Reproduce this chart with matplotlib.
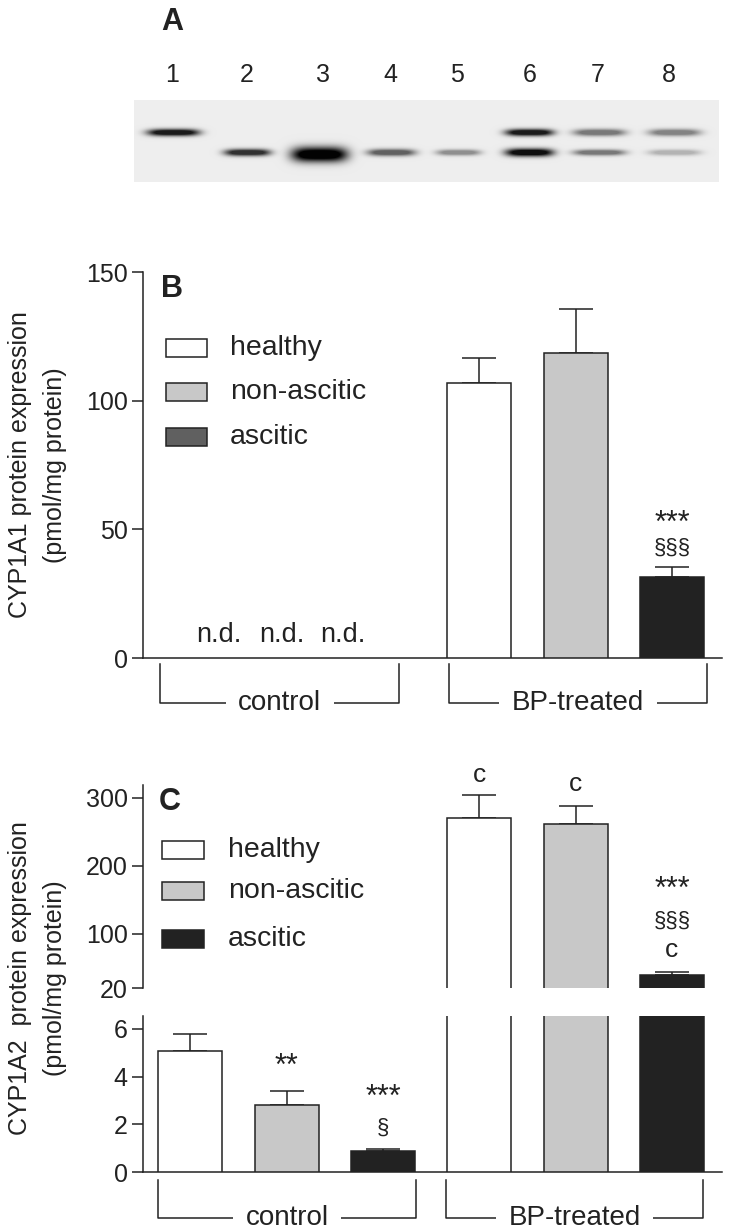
import numpy as np
import matplotlib
matplotlib.use('Agg')
import matplotlib.pyplot as plt
from matplotlib.patches import Rectangle

plt.rcParams['font.family'] = ['Liberation Sans', 'DejaVu Sans']
plt.rcParams['text.color'] = '#222222'
plt.rcParams['axes.edgecolor'] = '#222222'
plt.rcParams['xtick.color'] = '#222222'
plt.rcParams['ytick.color'] = '#222222'

# ---- data ----
groups = ['healthy', 'non-ascitic', 'ascitic']
colors = ['white', '#c8c8c8', '#222222']
legend_colors_B = ['white', '#c8c8c8', '#606060']

# panel A: western blot (band intensity 0..1 per lane)
lanes = ['1', '2', '3', '4', '5', '6', '7', '8']
lane_x = [39, 113, 185, 257, 324, 395, 465, 540]
label_x = [38, 113, 189, 256, 323, 396, 464, 535]
band_upper = [0.9, 0, 0, 0, 0, 0.9, 0.5, 0.45]
band_lower = [0, 0.8, 1.0, 0.6, 0.4, 0.95, 0.5, 0.25]
band_halfw = [26, 23, 28, 24, 22, 24, 26, 26]
band_thick = [3.5, 3.5, 7.5, 3.5, 3.0, 4.0, 3.0, 3.0]

# panel B: CYP1A1 (pmol/mg protein), control not detected
cyp1a1_bp = [107, 118.5, 31.5]
cyp1a1_bp_err = [9.5, 17, 4]

# panel C: CYP1A2 (pmol/mg protein)
cyp1a2_ctrl = [5.07, 2.8, 0.88]
cyp1a2_ctrl_err = [0.72, 0.6, 0.08]
cyp1a2_bp = [270.5, 261.6, 38.6]
cyp1a2_bp_err = [33.5, 26.6, 4.4]

W, H = 729, 1232
fig = plt.figure(figsize=(W / 100, H / 100), dpi=100)


def rect(l, t, r, b):
    return [l / W, 1 - b / H, (r - l) / W, (b - t) / H]


pos = np.arange(6)
width = 0.665
xlim = (-0.49, 5.52)
lw = 1.1
ast = 22

# ---- A ----
axA = fig.add_axes(rect(134, 100, 719, 182))
xx = np.arange(585)[None, :]
yy = np.arange(82)[:, None]
img = np.full((82, 585), 0.93)
for i in range(len(lanes)):
    for yc, inten in ((32, band_upper[i]), (52, band_lower[i])):
        if inten <= 0:
            continue
        th = band_thick[i] if yc == 52 else 3.5
        yc2 = yc + (2 if (yc == 52 and band_thick[i] > 5) else 0)
        prof = np.exp(-((xx - lane_x[i]) / band_halfw[i]) ** 4) * np.exp(-((yy - yc2) / th) ** 2)
        img = img - inten * 0.92 * np.clip(prof * 1.3, 0, 1)
axA.imshow(np.clip(img, 0, 1), cmap='gray', vmin=0, vmax=1, extent=(0, 585, 82, 0), aspect='auto')
axA.set_xlim(0, 585)
axA.set_ylim(82, 0)
axA.axis('off')
for lx, lab in zip(label_x, lanes):
    axA.text(lx, -25, lab, ha='center', va='center', fontsize=18, clip_on=False)
fig.text(172 / W, 1 - 22 / H, 'A', fontsize=22, fontweight='bold', ha='center', va='center')

# ---- B ----
axB = fig.add_axes(rect(143, 272, 722, 658))
axB.bar(pos[3:], cyp1a1_bp, width, color=colors, edgecolor='#222222', linewidth=lw, zorder=3)
axB.errorbar(pos[3:], cyp1a1_bp, yerr=[np.zeros(3), cyp1a1_bp_err], fmt='none', ecolor='#222222',
             elinewidth=lw, capsize=12, capthick=lw, zorder=2)
axB.set_xlim(*xlim)
axB.set_ylim(0, 150)
axB.set_yticks([0, 50, 100, 150])
for xp in [0.30, 0.95, 1.58]:
    axB.text(xp, 9, 'n.d.', ha='center', va='center', fontsize=19.5)
axB.text(5, 52, '***', ha='center', va='center', fontsize=ast)
axB.text(5, 42.5, '§§§', ha='center', va='center', fontsize=16)


def style(ax, bottom=True):
    for s in ['top', 'right']:
        ax.spines[s].set_visible(False)
    ax.spines['bottom'].set_visible(bottom)
    for s in ['left', 'bottom']:
        ax.spines[s].set_linewidth(lw)
    ax.set_xticks([])
    ax.tick_params(axis='y', length=8, width=lw, labelsize=18, pad=3)


style(axB)


def bracket(ax, x0, x1, y0, y1, label):
    tr = ax.get_xaxis_transform()
    ax.plot([x0, x0, x1, x1], [y0, y1, y1, y0], color='#222222', lw=lw, transform=tr, clip_on=False)
    ax.text((x0 + x1) / 2, y1, label, ha='center', va='center', fontsize=20, transform=tr,
            bbox=dict(facecolor='white', edgecolor='none', pad=9), clip_on=False)


bracket(axB, -0.311, 2.168, -0.016, -0.117, 'control')
bracket(axB, 2.687, 5.363, -0.016, -0.117, 'BP-treated')

fig.text(172 / W, 1 - 289 / H, 'B', fontsize=22, fontweight='bold', ha='center', va='center')


def legend(top_rows, fills, text_x, box_l, box_r):
    for yc, c, g in zip(top_rows, fills, groups):
        fig.patches.append(Rectangle((box_l / W, 1 - (yc + 9) / H), (box_r - box_l) / W, 18 / H,
                                     transform=fig.transFigure, facecolor=c, edgecolor='#222222',
                                     linewidth=lw))
        fig.text(text_x / W, 1 - yc / H, g, fontsize=20.5, ha='left', va='center')


legend([348, 392, 437], legend_colors_B, 230, 166, 207)

fig.text(20 / W, 1 - 465 / H, 'CYP1A1 protein expression', rotation=90, fontsize=18, ha='center', va='center')
fig.text(55 / W, 1 - 465 / H, '(pmol/mg protein)', rotation=90, fontsize=18, ha='center', va='center')

# ---- C upper ----
axC1 = fig.add_axes(rect(143, 785, 722, 988))
axC1.bar(pos, cyp1a2_ctrl + cyp1a2_bp, width, color=colors * 2, edgecolor='#222222', linewidth=lw, zorder=3)
axC1.errorbar(pos[3:], cyp1a2_bp, yerr=[np.zeros(3), cyp1a2_bp_err], fmt='none', ecolor='#222222',
              elinewidth=lw, capsize=12, capthick=lw, zorder=2)
axC1.set_xlim(*xlim)
axC1.set_ylim(20, 319)
axC1.set_yticks([20, 100, 200, 300])
style(axC1, bottom=False)
axC1.text(3, 334, 'c', ha='center', va='center', fontsize=19, clip_on=False)
axC1.text(4, 321, 'c', ha='center', va='center', fontsize=19, clip_on=False)
axC1.text(5, 165, '***', ha='center', va='center', fontsize=ast)
axC1.text(5, 118, '§§§', ha='center', va='center', fontsize=16)
axC1.text(5, 76, 'c', ha='center', va='center', fontsize=19)

fig.text(170 / W, 1 - 802 / H, 'C', fontsize=22, fontweight='bold', ha='center', va='center')
legend([850, 891, 939], colors, 228, 162, 204)

# ---- C lower ----
axC2 = fig.add_axes(rect(143, 1016, 722, 1172))
axC2.bar(pos, cyp1a2_ctrl + cyp1a2_bp, width, color=colors * 2, edgecolor='#222222', linewidth=lw, zorder=3)
axC2.errorbar(pos[:3], cyp1a2_ctrl, yerr=[np.zeros(3), cyp1a2_ctrl_err], fmt='none', ecolor='#222222',
              elinewidth=lw, capsize=12, capthick=lw, zorder=2)
axC2.set_xlim(*xlim)
axC2.set_ylim(0, 6.54)
axC2.set_yticks([0, 2, 4, 6])
style(axC2)
axC2.text(1, 4.4, '**', ha='center', va='center', fontsize=ast)
axC2.text(2, 3.12, '***', ha='center', va='center', fontsize=ast)
axC2.text(2, 1.85, '§', ha='center', va='center', fontsize=16)

bracket(axC2, -0.332, 2.344, -0.051, -0.295, 'control')
bracket(axC2, 2.656, 5.322, -0.051, -0.295, 'BP-treated')

fig.text(20 / W, 1 - 978 / H, 'CYP1A2  protein expression', rotation=90, fontsize=18, ha='center', va='center')
fig.text(55 / W, 1 - 978 / H, '(pmol/mg protein)', rotation=90, fontsize=18, ha='center', va='center')

fig.savefig('out.png', dpi=100)
